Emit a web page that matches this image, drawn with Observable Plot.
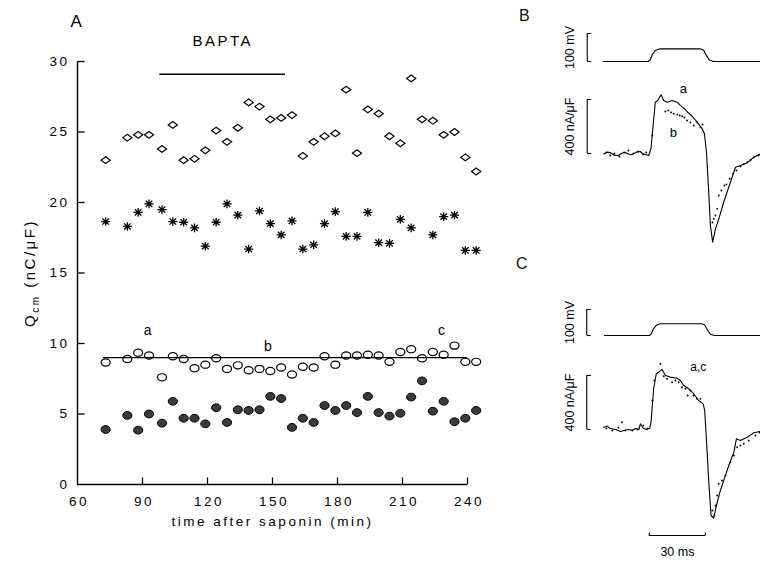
<!DOCTYPE html>
<html><head><meta charset="utf-8">
<script src="https://cdn.jsdelivr.net/npm/d3@7"></script>
<script src="https://cdn.jsdelivr.net/npm/@observablehq/plot@0.6"></script>
<style>
body{margin:0;background:#fff;}
#fig{position:relative;width:760px;height:561px;background:#fff;overflow:hidden;font-family:"Liberation Sans",Arial,sans-serif;}
#fig > div{position:absolute;}
.plabel{font-size:16px;color:#111;line-height:1;}
</style></head><body><div id="fig"></div>
<script>
// ---------- Panel A data ----------
const times   = [73,83,88,93,99,104,109,114,119,124,129,134,139,144,149,154,159,164,169,174,179,184,189,194,199,204,209,214,219,224,229,234,239,244];
const diamondQ= [23.0,24.6,24.8,24.8,23.8,25.5,23.0,23.1,23.7,25.1,24.3,25.3,27.1,26.8,25.9,26.0,26.2,23.3,24.3,24.7,24.9,28.0,23.5,26.6,26.3,24.7,24.2,28.8,25.9,25.8,24.8,25.0,23.2,22.2];
const starQ   = [18.65,18.3,19.3,19.9,19.5,18.65,18.6,18.2,16.9,18.6,19.9,19.1,16.7,19.4,18.5,17.7,18.7,16.7,17.0,18.5,19.35,17.6,17.6,19.3,17.15,17.1,18.8,18.2,null,17.7,19.0,19.1,16.6,16.6];
const openQ   = [8.65,8.9,9.35,9.15,7.6,9.1,8.9,8.25,8.5,8.95,8.2,8.45,8.1,8.2,8.05,8.3,7.8,8.35,8.3,9.1,8.5,9.15,9.15,9.2,9.15,8.7,9.4,9.6,8.95,9.4,9.2,9.85,8.7,8.7];
const filledQ = [3.9,4.9,3.85,5.0,4.35,5.9,4.7,4.7,4.3,5.45,4.4,5.3,5.25,5.3,6.25,6.1,4.05,4.7,4.4,5.6,5.25,5.6,5.1,6.25,5.1,4.85,5.05,6.2,7.35,5.2,5.9,4.45,4.7,5.25];
const meanLine = {q:9.0, t1:72, t2:240};
const bapta = {label:"BAPTA", t1:98, t2:156, q:29.1};
const xTicks = [60,90,120,150,180,210,240];
const yTicks = [0,5,10,15,20,25,30];
const pointLabels = [{text:"a", t:93, q:10.9},{text:"b", t:148.5, q:9.8},{text:"c", t:228.6, q:10.9}];

// ---------- Panels B, C data (t in ms, V in mV, I in nA/µF) ----------
const vStep = [[-24,0],[0,0],[1.1,7],[2.1,25],[3.7,39],[5.9,45],[27.9,45],[29.5,41],[31.1,21],[32.7,5],[34.8,0],[60,0]];
const traceB_a = [[-23.9,-4],[-22,10],[-20.4,7],[-18.5,-12],[-16.1,-15],[-14,4],[-12.3,7],[-10.5,-5],[-8.6,-7],[-6.5,10],[-4.3,15],[-3,0],[-1.6,-7],[0.2,-15],[1.4,35],[3.7,380],[5.0,393],[6.8,435],[8.2,393],[10.0,380],[12.7,393],[15.4,380],[17.1,356],[19.8,326],[21.0,306],[23.4,276],[26.1,232],[28.8,183],[30.0,146],[31.1,10],[32.3,-287],[33.2,-533],[34.4,-657],[35.9,-558],[37.7,-484],[40.3,-361],[43.9,-213],[46.6,-102],[49.3,-89],[52.9,-69],[56.4,-27],[60,-2]];
const traceB_b = [[-22.5,7],[-20.4,-15],[-18.2,0],[-15.5,-22],[-12.9,7],[-10.7,22],[-8.0,0],[-5.4,15],[-2.7,-7],[-1.1,7],[2.1,133],[9.1,311],[10.7,319],[12.2,305],[13.6,294],[15.5,289],[16.8,282],[18.1,276],[19.3,267],[20.7,245],[22.5,230],[24.3,207],[26.2,230],[27.9,195],[29.0,215],[34.3,-511],[35.0,-484],[35.9,-459],[36.8,-410],[37.7,-311],[39.1,-274],[40.7,-237],[41.8,-230],[43.5,-187],[45.4,-150],[47.1,-126],[49.3,-96],[51,-80],[52.9,-64],[54.6,-48],[56.4,-30],[58.9,-15]];
const traceC_a = [[-24.5,17],[-22.5,25],[-20.9,7],[-18,0],[-15.5,-15],[-13,-5],[-11.2,0],[-9,-5],[-7.5,7],[-5.6,0],[-4.8,42],[-3.2,7],[-1.5,0],[0.2,10],[0.9,54],[2.3,302],[3.7,413],[5.5,430],[6.8,445],[8.6,400],[11.2,388],[14.8,380],[16.6,363],[18.4,326],[21.0,302],[23.7,265],[26.4,215],[28.8,190],[29.6,141],[30.5,-69],[31.8,-390],[33.0,-637],[34.4,-657],[35.9,-563],[37.7,-465],[39.5,-390],[42.5,-267],[45.2,-168],[46.6,-69],[48.7,-82],[52.3,-57],[55.9,-24],[59.1,-15]];
const traceC_c = [[-23,7],[-19.8,-7],[-16.6,15],[-14.6,54],[-12.9,-7],[-9.1,-7],[-6.4,0],[-3.2,30],[-1.1,7],[1.6,215],[2.7,363],[5.9,487],[7.7,395],[9.5,376],[12.2,350],[13.9,363],[15.7,350],[17.5,313],[19.3,302],[20.5,252],[22,289],[23.7,252],[25.5,227],[27.3,227],[33.7,-600],[34.8,-637],[35.4,-563],[36.3,-489],[37.1,-402],[38.9,-378],[40.7,-341],[43.4,-242],[45.2,-193],[47,-131],[48.7,-119],[50.5,-106],[53.2,-82],[56.8,-44],[58.9,-22]];
const scaleV = {label:"100 mV", lo:0, hi:100};
const scaleI = {label:"400 nA/\u03bcF", lo:0, hi:400};
const scaleT = {label:"30 ms", t1:0, t2:30, at:-785};
const traceLabelB = [{text:"a", t:18.7, v:482},{text:"b", t:13.4, v:156}];
const traceLabelC = [{text:"a,c", t:26.2, v:459}];

// ---------- symbols ----------
const K = 0.5523;
function ellipse(rx, ry){ return {draw(ctx){
  ctx.moveTo(rx,0);
  ctx.bezierCurveTo(rx,ry*K,rx*K,ry,0,ry);
  ctx.bezierCurveTo(-rx*K,ry,-rx,ry*K,-rx,0);
  ctx.bezierCurveTo(-rx,-ry*K,-rx*K,-ry,0,-ry);
  ctx.bezierCurveTo(rx*K,-ry,rx,-ry*K,rx,0);
  ctx.closePath();
}};}
const diamondSym = {draw(ctx){ctx.moveTo(0,-3.4);ctx.lineTo(4.6,0);ctx.lineTo(0,3.4);ctx.lineTo(-4.6,0);ctx.closePath();}};
const starSym = {draw(ctx){
  ctx.moveTo(-4.6,0);ctx.lineTo(4.6,0);ctx.moveTo(0,-4.3);ctx.lineTo(0,4.3);
  ctx.moveTo(-3.3,-3.1);ctx.lineTo(3.3,3.1);ctx.moveTo(-3.3,3.1);ctx.lineTo(3.3,-3.1);}};
const tickRight = (n)=>({draw(ctx){ctx.moveTo(0,0);ctx.lineTo(n,0);}});
const tickUp = (n)=>({draw(ctx){ctx.moveTo(0,0);ctx.lineTo(0,-n);}});

const fig = document.getElementById("fig");
function place(el, left, top){ const d=document.createElement("div"); d.style.left=left+"px"; d.style.top=top+"px"; d.appendChild(el); fig.appendChild(d); return d; }

const series = vals => times.map((t,i)=>({t, q: vals[i]})).filter(d=>d.q!=null);

// ---------- Panel A ----------
const main = Plot.plot({
  width:520, height:545, marginLeft:77, marginRight:53, marginTop:61, marginBottom:61,
  x:{domain:[60,240]}, y:{domain:[0,30]},
  style:{fontFamily:'"Liberation Sans", Arial, sans-serif', fontSize:"13.5px", letterSpacing:"2.5px", background:"transparent", color:"black", overflow:"visible", maxWidth:"none"},
  marks:[
    Plot.axisX(xTicks, {tickSize:0, tickPadding:12, label:null, dx:1.5}),
    Plot.axisY(yTicks, {tickSize:0, tickPadding:8, label:null}),
    Plot.ruleX([60], {y1:0, y2:30, stroke:"black", strokeWidth:1.4}),
    Plot.ruleY([0], {x1:60, x2:240, stroke:"black", strokeWidth:1.4}),
    Plot.dot(yTicks.slice(1), {x:()=>60, y:d=>d, symbol:tickRight(7), stroke:"black", fill:"none", strokeWidth:1.3}),
    Plot.dot(xTicks.slice(1), {x:d=>d, y:()=>0, symbol:tickUp(7), stroke:"black", fill:"none", strokeWidth:1.3}),
    Plot.ruleY([meanLine], {y:"q", x1:"t1", x2:"t2", stroke:"black", strokeWidth:1.2}),
    Plot.ruleY([bapta], {y:"q", x1:"t1", x2:"t2", stroke:"black", strokeWidth:1.5}),
    Plot.text([bapta], {x:d=>(d.t1+d.t2)/2, y:"q", dy:-33, text:"label", fontSize:15, letterSpacing:"3px"}),
    Plot.text(["A"], {x:()=>60, y:()=>30, dy:-40, text:d=>d, fontSize:17, letterSpacing:"0px"}),
    Plot.text(pointLabels, {x:"t", y:"q", text:"text", fontSize:14, letterSpacing:"0px"}),
    Plot.dot(series(diamondQ), {x:"t", y:"q", symbol:diamondSym, stroke:"black", fill:"none", strokeWidth:1.2}),
    Plot.dot(series(starQ), {x:"t", y:"q", symbol:starSym, stroke:"black", fill:"none", strokeWidth:1.3}),
    Plot.dot(series(openQ), {x:"t", y:"q", symbol:ellipse(4.5,3.6), stroke:"black", fill:"none", strokeWidth:1.2}),
    Plot.dot(series(filledQ), {x:"t", y:"q", symbol:ellipse(4.6,3.9), stroke:"black", fill:"#3a3a3a", strokeWidth:1}),
    Plot.text(["time after saponin (min)"], {frameAnchor:"bottom", dy:41, text:d=>d, fontSize:13.5, letterSpacing:"3px"})
  ]
});
place(main, 0, 0);
{
  const yl = d3.select(main).append("text")
    .attr("transform","translate(35,273) rotate(-90)")
    .attr("text-anchor","middle").attr("font-size",15).attr("fill","black").style("letter-spacing","2.5px");
  yl.append("tspan").text("Q");
  yl.append("tspan").attr("font-size",10).attr("dy",4).text("cm");
  yl.append("tspan").attr("dy",-4).text(" (nC/\u03bcF)");
}

// ---------- Panels B, C ----------
const traceStyle = {fontFamily:'"Liberation Sans", Arial, sans-serif', fontSize:"12px", background:"transparent", color:"black", overflow:"visible", maxWidth:"none"};
function bracket(sb, t){
  return [
    Plot.ruleX([sb], {x:()=>t, y1:"lo", y2:"hi", stroke:"black", strokeWidth:1.1}),
    Plot.dot([sb.lo, sb.hi], {x:()=>t, y:d=>d, symbol:tickRight(4), stroke:"black", fill:"none", strokeWidth:1.1}),
    Plot.text([sb], {x:()=>t, y:d=>(d.lo+d.hi)/2, dx:-17, rotate:-90, text:"label", fontSize:12.5})
  ];
}
function tracePlot(left, top, width, height, mL, mT, mB, yDomain, marks){
  const svg = Plot.plot({width, height, marginLeft:mL, marginRight:0, marginTop:mT, marginBottom:mB,
    x:{domain:[-24,60], axis:null}, y:{domain:yDomain, axis:null}, style:traceStyle, marks});
  place(svg, left, top);
}
const line = (data)=>Plot.line(data, {x:d=>d[0], y:d=>d[1], stroke:"black", strokeWidth:1.1});
const dots = (data)=>Plot.dot(data, {x:d=>d[0], y:d=>d[1], r:0.95, fill:"black", stroke:"none"});

// B voltage
tracePlot(555, 20, 205, 50, 48, 13, 9, [0,100], [ ...bracket(scaleV, -32.7), line(vStep) ]);
// B current
tracePlot(555, 80, 205, 175, 48, 19, 102, [0,400], [
  ...bracket(scaleI, -32.7), line(traceB_a), dots(traceB_b),
  Plot.text(traceLabelB, {x:"t", y:"v", text:"text", fontSize:13})
]);
// C voltage
tracePlot(555, 290, 206, 55, 49, 19, 10, [0,100], [ ...bracket(scaleV, -33.5), line(vStep) ]);
// C current
tracePlot(555, 350, 206, 210, 49, 25, 131, [0,400], [
  ...bracket(scaleI, -33.5), line(traceC_a), dots(traceC_c),
  Plot.text(traceLabelC, {x:"t", y:"v", text:"text", fontSize:12}),
  Plot.ruleY([scaleT], {y:"at", x1:"t1", x2:"t2", stroke:"black", strokeWidth:1.1}),
  Plot.dot([scaleT.t1, scaleT.t2], {x:d=>d, y:()=>scaleT.at, symbol:tickUp(3), stroke:"black", fill:"none", strokeWidth:1.1}),
  Plot.text([scaleT], {x:d=>(d.t1+d.t2)/2, y:"at", dy:17, text:"label", fontSize:12.5, letterSpacing:"1px"})
]);

// panel letters
const lb = document.createElement("div"); lb.className="plabel"; lb.textContent="B"; fig.appendChild(lb); lb.style.left="519px"; lb.style.top="8px";
const lc = document.createElement("div"); lc.className="plabel"; lc.textContent="C"; fig.appendChild(lc); lc.style.left="516px"; lc.style.top="256px";
</script></body></html>
